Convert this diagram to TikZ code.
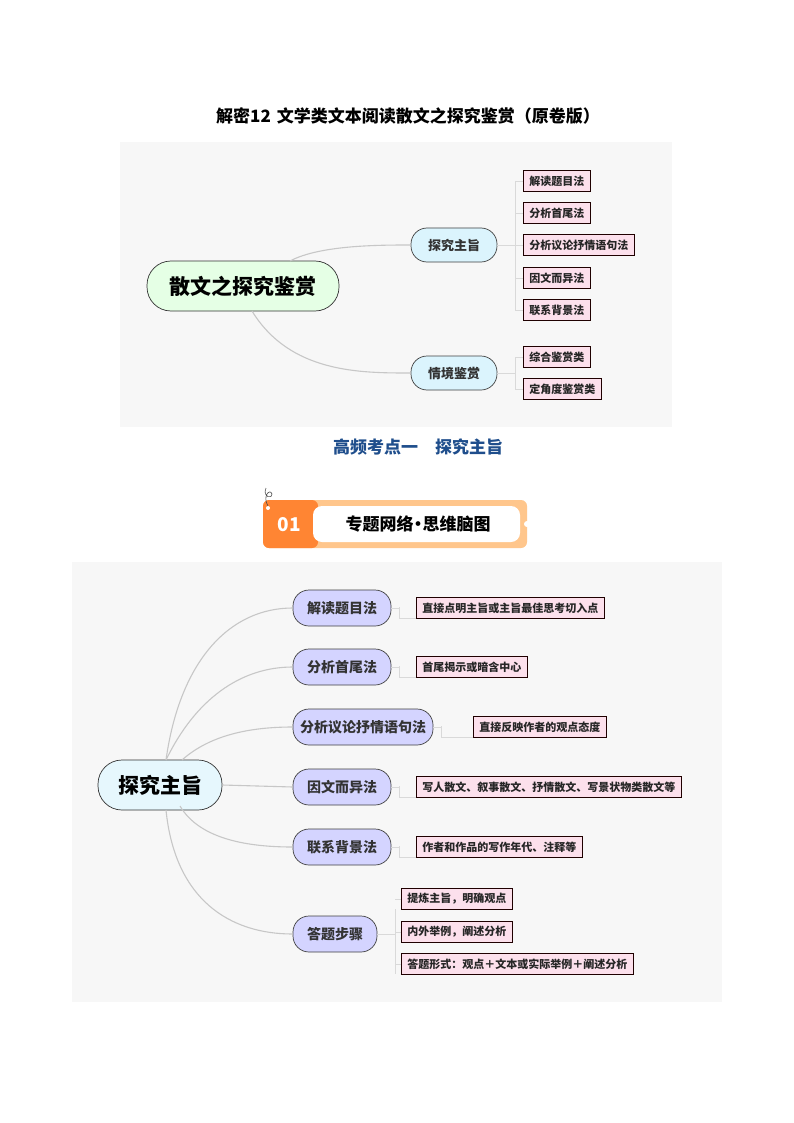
\documentclass[tikz,border=0pt]{standalone}
\usepackage{fontspec}
\usetikzlibrary{calc}
\setmainfont{Noto Sans CJK SC}
\definecolor{leafc}{RGB}{252,224,236}
\definecolor{subc}{RGB}{31,78,140}
\begin{document}
\begin{tikzpicture}[x=1pt,y=-1pt,
  conn/.style={draw=black!22,line width=1.1pt},
  brk/.style={draw=black!15,line width=0.8pt},
  leaf/.style={draw=black!70!red!40!black,fill=leafc,line width=0.6pt,font=\bfseries\fontsize{11}{11}\selectfont,text=black!85,minimum height=21pt,inner xsep=6pt,inner ysep=0pt,anchor=west},
  mid/.style={draw=black!75,fill=cyan!14,rounded corners=16pt,line width=0.7pt,font=\bfseries\fontsize{13}{13}\selectfont,text=black!80,minimum height=34pt,inner sep=0pt},
  br/.style={draw=black!75,fill=blue!17,rounded corners=16pt,line width=0.7pt,font=\bfseries\fontsize{14}{14}\selectfont,text=black!80,minimum height=36pt,inner sep=0pt},
  rootn/.style={draw=black!80,rounded corners=24pt,line width=0.7pt,font=\bfseries\fontsize{21}{21}\selectfont,minimum height=50pt,inner sep=0pt}]
\useasboundingbox (0,0) rectangle (794,1123);
\fill[white] (0,0) rectangle (794,1123);
\node[font=\bfseries\fontsize{17}{17}\selectfont] (title) at (408,116) {解密12\kern6pt 文学类文本阅读散文之探究鉴赏（原卷版）};
% panel 1
\fill[black!3] (120,142) rectangle (672,427);
\node[rootn,fill=green!10,minimum width=192pt] (r1) at (243,286) {散文之探究鉴赏};
\node[mid,minimum width=86pt] (m1) at (454,245) {探究主旨};
\node[mid,minimum width=86pt] (m2) at (454,373) {情境鉴赏};
\foreach \n/\t/\y in {a/解读题目法/181,b/分析首尾法/213,c/分析议论抒情语句法/245,d/因文而异法/278,e/联系背景法/310}
  \node[leaf] (l\n) at (523,\y) {\t};
\node[leaf] (lf) at (523,357) {综合鉴赏类};
\node[leaf] (lg) at (523,389) {定角度鉴赏类};
\coordinate (s1) at (290,261);
\coordinate (s2) at (252,311);
\draw[conn] (s1) .. controls (320,245) and (380,245) .. (m1.west);
\draw[conn] (s2) .. controls (290,373) and (360,373) .. (m2.west);
\draw[brk] (m1.east) -- (515,245);
\draw[brk] (515,181) -- (515,310);
\foreach \n in {a,b,c,d,e} \draw[brk] ($(l\n.west)+(-8,0)$) -- (l\n.west);
\draw[brk] (m2.east) -- (515,373);
\draw[brk] (515,357) -- (515,389);
\foreach \n in {f,g} \draw[brk] ($(l\n.west)+(-8,0)$) -- (l\n.west);
\node[text=subc,font=\bfseries\fontsize{17}{17}\selectfont] (sub) at (418,447) {高频考点一\quad 探究主旨};
% banner
\fill[orange!45,rounded corners=6pt] (263,500) rectangle (527,548);
\fill[orange!80!red!80,rounded corners=6pt] (263,500) rectangle (318,548);
\fill[white,rounded corners=9pt] (313,506) rectangle (520,542);
\fill[white] (527,524) circle (3pt);
\fill[white] (268,508) circle (2pt);
\draw[black!70,line width=0.6pt] (268,506) .. controls (262,496) and (270,488) .. (272,494) .. controls (273,499) and (262,498) .. (266,488);
\node[text=white,font=\bfseries\fontsize{19}{19}\selectfont] (n01) at (289,525) {01};
\node[font=\bfseries\fontsize{17}{17}\selectfont] (bt) at (418,524) {专题网络\kern-4pt•\kern-4pt思维脑图};
% panel 2
\fill[black!3] (72,562) rectangle (722,1002);
\node[rootn,fill=cyan!10,minimum width=124pt] (r2) at (160,785) {探究主旨};
\node[br,minimum width=98pt] (b1) at (342,608) {解读题目法};
\node[br,minimum width=98pt] (b2) at (342,667) {分析首尾法};
\node[br,minimum width=140pt] (b3) at (363,727) {分析议论抒情语句法};
\node[br,minimum width=98pt] (b4) at (342,787) {因文而异法};
\node[br,minimum width=98pt] (b5) at (342,847) {联系背景法};
\node[br,minimum width=84pt] (b6) at (335,934) {答题步骤};
\node[leaf] (k1) at (416,608) {直接点明主旨或主旨最佳思考切入点};
\node[leaf] (k2) at (416,667) {首尾揭示或暗含中心};
\node[leaf] (k3) at (473,727) {直接反映作者的观点态度};
\node[leaf] (k4) at (416,787) {写人散文、叙事散文、抒情散文、写景状物类散文等};
\node[leaf] (k5) at (416,847) {作者和作品的写作年代、注释等};
\node[leaf] (k6) at (401,899) {提炼主旨，明确观点};
\node[leaf] (k7) at (401,932) {内外举例，阐述分析};
\node[leaf] (k8) at (401,964) {答题形式：观点＋文本或实际举例＋阐述分析};
\coordinate (t1) at (166,760);
\coordinate (t2) at (182,760);
\coordinate (t3) at (180,806);
\coordinate (t4) at (166,810);
\draw[conn] (t1) .. controls (180,660) and (230,608) .. (b1.west);
\draw[conn] (t1) .. controls (195,700) and (240,667) .. (b2.west);
\draw[conn] (t2) .. controls (210,735) and (250,727) .. (b3.west);
\draw[conn] (r2.east) -- (b4.west);
\draw[conn] (t3) .. controls (200,840) and (250,847) .. (b5.west);
\draw[conn] (t4) .. controls (175,900) and (230,934) .. (b6.west);
\foreach \b in {1,2,3,4,5}{
  \draw[brk] (b\b.east) -- ++(8,0) coordinate (q\b);
  \draw[brk] ($(q\b)+(0,-1)$) |- ($(k\b.west)+(0,10)$);
}
\draw[brk] (b6.east) -- (395,934);
\draw[brk] (395,909) -- (395,974);
\foreach \k in {6,7,8} \draw[brk] ($(k\k.west)+(-6,0)$) -- (k\k.west);
\end{tikzpicture}
\end{document}
